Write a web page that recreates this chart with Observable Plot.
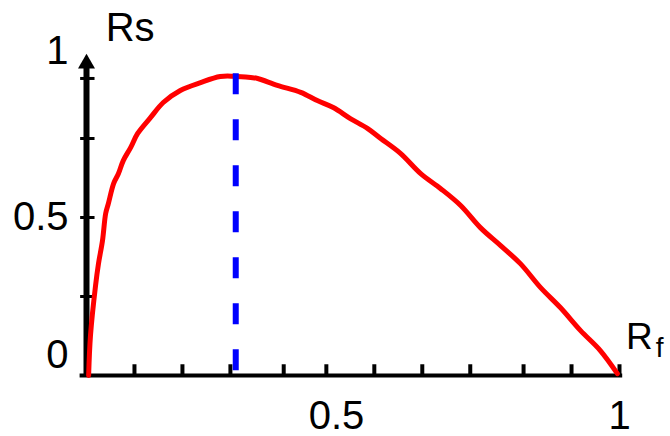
<!DOCTYPE html>
<html>
<head>
<meta charset="utf-8">
<script src="https://cdn.jsdelivr.net/npm/d3@7"></script>
<script src="https://cdn.jsdelivr.net/npm/@observablehq/plot@0.6"></script>
<style>
  html, body { margin: 0; padding: 0; background: #fff; }
  #chart svg { display: block; }
</style>
</head>
<body>
<div id="chart"></div>
<script>
// Curve Rs vs Rf
const rf = [0.004, 0.0075, 0.017, 0.0225, 0.030, 0.036, 0.041, 0.051, 0.060, 0.069, 0.083, 0.096, 0.120, 0.144, 0.176, 0.214, 0.251, 0.276, 0.308, 0.321, 0.358, 0.402, 0.433, 0.463, 0.495, 0.527, 0.552, 0.589, 0.627, 0.664, 0.702, 0.739, 0.777, 0.814, 0.852, 0.889, 0.927, 0.964, 0.996];
const rs = [0, 0.127, 0.285, 0.354, 0.427, 0.513, 0.544, 0.608, 0.639, 0.680, 0.722, 0.766, 0.816, 0.864, 0.902, 0.927, 0.946, 0.947, 0.943, 0.940, 0.918, 0.896, 0.870, 0.848, 0.813, 0.782, 0.750, 0.703, 0.639, 0.592, 0.538, 0.468, 0.411, 0.354, 0.278, 0.215, 0.142, 0.079, 0.006];

// Peak marker (blue dashed line)
const peakRf = [0.28];
const peakTop = [0.955];

// Axis ticks and labels
const xTicks = [0.09, 0.18, 0.27, 0.37, 0.45, 0.54, 0.63, 0.72, 0.82, 0.91, 1];
const yTicks = [0.25, 0.5, 0.75, 0.94];
const xTickLabels = ["0.5", "1"];
const xTickLabelPos = [0.469, 1];
const yTickLabels = ["0", "0.5", "1"];
const yTickLabelPos = [0.063, 0.5, 1.025];
const yAxisTop = [0.99];
const yTitle = ["Rs"];
const xTitleMain = ["R"];
const xTitleSub = ["f"];

const curve = rf.map((x, i) => ({x, y: rs[i]}));
const font = "Liberation Sans, Arial, Helvetica, sans-serif";

const chart = Plot.plot({
  width: 670,
  height: 436,
  marginLeft: 86,
  marginRight: 51,
  marginTop: 59,
  marginBottom: 61,
  style: {background: "#fff", fontFamily: font},
  x: {domain: [0, 1], axis: null},
  y: {domain: [0, 1], axis: null},
  marks: [
    // x axis line and ticks
    Plot.ruleY([0], {x1: -0.012, x2: 1.006, stroke: "black", strokeWidth: 4}),
    Plot.ruleX(xTicks, {x: d => d, y1: 0, y2: 0.034, stroke: "black", strokeWidth: 4}),
    // y axis line, ticks, arrow head
    Plot.ruleX([0], {y1: 0, y2: yAxisTop[0], stroke: "black", strokeWidth: 6}),
    Plot.ruleY(yTicks, {y: d => d, x1: -0.011, x2: 0.016, stroke: "black", strokeWidth: 3}),
    Plot.dot(yAxisTop, {x: 0, y: d => d - 0.003, symbol: "triangle", r: 6.3, fill: "black", stroke: null}),
    // curve
    Plot.line(curve, {x: "x", y: "y", stroke: "#ff0000", strokeWidth: 5, curve: "catmull-rom", strokeLinejoin: "round"}),
    // dashed peak line
    Plot.ruleX(peakRf, {x: d => d, y1: peakTop[0], y2: 0, stroke: "#0000ff", strokeWidth: 6, strokeDasharray: "21,25"}),
    // tick labels
    Plot.text(yTickLabels, {x: 0, y: (d, i) => yTickLabelPos[i], text: d => d, textAnchor: "end", dx: -18, fontSize: 40, fill: "black", fontFamily: font}),
    Plot.text(xTickLabels, {x: (d, i) => xTickLabelPos[i], y: 0, text: d => d, textAnchor: "middle", dy: 41, fontSize: 40, fill: "black", fontFamily: font}),
    // axis titles
    Plot.text(yTitle, {x: 0.036, y: 1.098, text: d => d, textAnchor: "start", fontSize: 40, fill: "black", fontFamily: font}),
    Plot.text(xTitleMain, {x: 1.012, y: 0.12, text: d => d, textAnchor: "start", fontSize: 37, fill: "black", fontFamily: font}),
    Plot.text(xTitleSub, {x: 1.068, y: 0.088, text: d => d, textAnchor: "start", fontSize: 28, fill: "black", fontFamily: font})
  ]
});
document.getElementById("chart").appendChild(chart);
</script>
</body>
</html>
